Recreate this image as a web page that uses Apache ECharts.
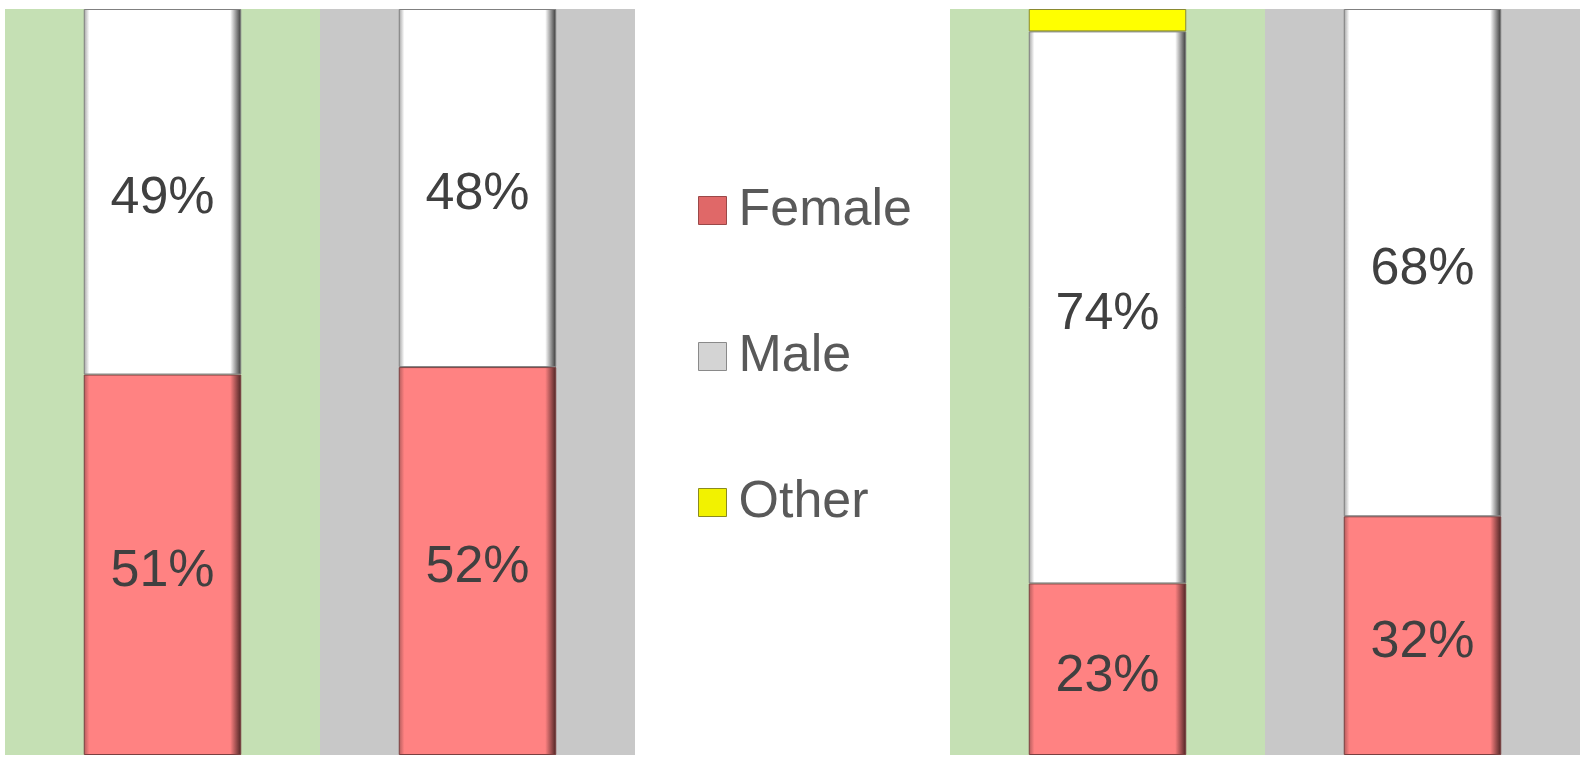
<!DOCTYPE html>
<html>
<head>
<meta charset="utf-8">
<script src="https://cdn.jsdelivr.net/npm/echarts@6/dist/echarts.min.js"></script>
<style>html,body{margin:0;padding:0;background:#fff;}#c{width:1587px;height:763px;}</style>
</head>
<body>
<div id="c"></div>
<script>
const categories = ['Group 1', 'Group 2', '', 'Group 3', 'Group 4'];
const female = [51, 52, null, 23, 32];
const male = [49, 48, null, 74, 68];
const other = [0, 0, null, 3, 0];

const chart = echarts.init(document.getElementById('c'));
const FONT = "'Liberation Sans', Arial, sans-serif";

function hGrad(edgeL, main, edgeR) {
  return new echarts.graphic.LinearGradient(0, 0, 1, 0, [
    {offset: 0, color: edgeL},
    {offset: 0.035, color: main},
    {offset: 0.93, color: main},
    {offset: 1, color: edgeR}
  ]);
}
const lbl = {
  show: true, position: 'inside', offset: [0, 7], fontSize: 52, color: '#404040', fontFamily: FONT,
  formatter: p => (p.value ? p.value + '%' : '')
};

chart.setOption({
  animation: false,
  grid: {left: 5, right: 7, top: 9, bottom: 8},
  legend: {
    orient: 'vertical', left: 693, top: 179,
    itemWidth: 28, itemHeight: 28, itemGap: 93,
    textStyle: {fontSize: 52, lineHeight: 53, color: '#595959', fontFamily: FONT, padding: [0, 0, 0, 7]},
    data: [
      {name: 'Female', icon: 'rect', itemStyle: {color: '#E06868', borderColor: '#9a4848', borderWidth: 1}},
      {name: 'Male', icon: 'rect', itemStyle: {color: '#d4d4d4', borderColor: '#8a8a8a', borderWidth: 1}},
      {name: 'Other', icon: 'rect', itemStyle: {color: '#F2F200', borderColor: '#8a8a20', borderWidth: 1}}
    ]
  },
  xAxis: {
    type: 'category', data: categories,
    axisLine: {show: false}, axisTick: {show: false}, axisLabel: {show: false},
    splitLine: {show: false},
    splitArea: {show: true, interval: 0, areaStyle: {color: ['#C5E0B4', '#C8C8C8', '#FFFFFF']}}
  },
  yAxis: {type: 'value', min: 0, max: 100, show: false, splitLine: {show: false}},
  series: [
    {
      name: 'Female', type: 'bar', stack: 's', barWidth: '50%', data: female,
      itemStyle: {color: hGrad('#b05a5a', '#FF8282', '#4a2222'), borderColor: '#7a4040', borderWidth: 1},
      label: lbl
    },
    {
      name: 'Male', type: 'bar', stack: 's', barWidth: '50%', data: male,
      itemStyle: {color: hGrad('#a0a0a0', '#FFFFFF', '#333333'), borderColor: '#808080', borderWidth: 1},
      label: lbl
    },
    {
      name: 'Other', type: 'bar', stack: 's', barWidth: '50%',
      data: other.map(v => (v === 0 ? null : v)),
      itemStyle: {color: '#FFFF00', borderColor: '#8a8a30', borderWidth: 1},
      label: {show: false}
    }
  ]
});
</script>
</body>
</html>
